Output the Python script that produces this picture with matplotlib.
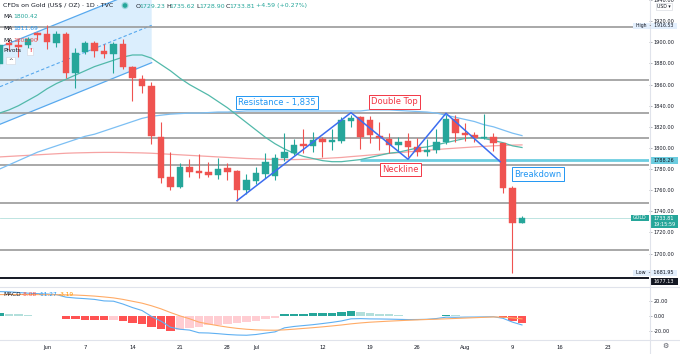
import matplotlib
matplotlib.use("Agg")
import matplotlib.pyplot as plt
from matplotlib.patches import Rectangle, Polygon, Circle
import numpy as np

plt.rcParams['font.family'] = ['DejaVu Sans']

# ---------------- data ----------------
first_index = -5          # trading-day index of first candle (0 = 1 Jun 2021)
opens = [1879.5, 1899.1, 1897.2, 1897.4, 1908.5, 1907.6, 1899.1, 1907.9, 1870.7, 1891.1,
         1899.1, 1891.8, 1888.6, 1898.1, 1876.9, 1865.3, 1858.9, 1810.6, 1772.8, 1763.3,
         1782.3, 1778.2, 1777.5, 1774.4, 1780.7, 1778.2, 1760.2, 1768.7, 1775.3, 1773.0,
         1790.2, 1795.5, 1803.5, 1801.8, 1808.2, 1805.9, 1806.9, 1825.8, 1829.0, 1826.0,
         1811.6, 1808.5, 1802.8, 1806.6, 1801.2, 1796.5, 1798.0, 1805.9, 1827.1, 1813.9,
         1812.3, 1809.1, 1810.6, 1804.4, 1761.8, 1729.23]
highs = [1899.0, 1903.0, 1903.0, 1905.0, 1910.0, 1916.53, 1911.0, 1909.5, 1894.9, 1901.2,
         1901.5, 1898.1, 1900.0, 1902.8, 1877.5, 1869.0, 1862.7, 1824.8, 1796.5, 1785.5,
         1789.5, 1794.3, 1787.0, 1790.2, 1785.8, 1779.5, 1775.3, 1782.3, 1794.9, 1794.0,
         1813.9, 1808.5, 1817.7, 1815.4, 1810.0, 1817.7, 1829.0, 1831.2, 1830.5, 1830.0,
         1824.8, 1813.9, 1810.7, 1813.9, 1809.1, 1808.2, 1817.7, 1831.2, 1831.2, 1823.3,
         1815.4, 1831.8, 1814.4, 1805.0, 1764.0, 1735.62]
lows = [1877.0, 1893.0, 1886.0, 1892.0, 1902.0, 1893.4, 1895.3, 1865.9, 1856.5, 1889.0,
        1886.4, 1885.0, 1870.7, 1874.4, 1844.4, 1851.7, 1803.5, 1766.5, 1760.2, 1762.0,
        1772.2, 1772.0, 1772.8, 1771.0, 1769.7, 1750.1, 1756.1, 1766.0, 1772.0, 1770.0,
        1788.0, 1793.0, 1795.0, 1796.5, 1791.2, 1798.0, 1805.0, 1820.0, 1798.7, 1805.0,
        1798.0, 1795.5, 1796.5, 1791.7, 1792.0, 1792.4, 1795.0, 1804.0, 1805.9, 1806.6,
        1805.9, 1808.2, 1797.4, 1757.6, 1681.95, 1728.90]
closes = [1897.4, 1897.2, 1895.5, 1902.8, 1906.9, 1900.0, 1907.9, 1870.7, 1889.6, 1899.1,
          1892.0, 1888.6, 1898.1, 1876.9, 1865.9, 1858.6, 1811.3, 1771.8, 1763.3, 1782.3,
          1777.5, 1776.6, 1774.4, 1779.8, 1777.5, 1760.2, 1769.7, 1776.0, 1787.0, 1790.2,
          1795.9, 1802.8, 1801.8, 1807.5, 1805.4, 1807.5, 1826.5, 1828.1, 1810.1, 1812.3,
          1809.1, 1802.8, 1805.9, 1801.2, 1796.5, 1798.0, 1805.9, 1827.1, 1813.9, 1812.3,
          1809.1, 1810.6, 1804.4, 1761.8, 1729.22, 1733.81]

ma20 = [1833, 1836, 1840, 1845, 1850, 1856, 1861, 1865, 1869, 1873,
        1877, 1880, 1883, 1886, 1888, 1888, 1885, 1879, 1873, 1866,
        1860, 1855, 1850, 1844, 1838, 1831, 1824, 1817, 1810, 1804,
        1799, 1795, 1792, 1790, 1788, 1787, 1787, 1788, 1789, 1791,
        1793, 1795, 1796, 1798, 1800, 1801, 1803, 1805, 1807, 1809,
        1810, 1809, 1807, 1805, 1802, 1800.42]
ma50 = [1780, 1784, 1788, 1792, 1796, 1799, 1802, 1805, 1808, 1811,
        1813, 1816, 1819, 1822, 1825, 1828, 1830, 1831, 1832, 1832.5,
        1833, 1833, 1833.5, 1834, 1834, 1834.5, 1835, 1835, 1835, 1835,
        1835, 1835, 1835, 1835, 1835, 1835, 1835, 1835, 1835, 1836,
        1836, 1836, 1835.5, 1835, 1834.5, 1834, 1833, 1831, 1829, 1827,
        1825, 1822, 1820, 1817, 1814, 1811.69]
ma100 = [1791.5, 1792, 1792.5, 1793, 1793.5, 1794, 1794.5, 1795, 1795.3, 1795.5,
         1795.7, 1795.8, 1795.8, 1795.7, 1795.5, 1795.3, 1795, 1794.5, 1794, 1793.5,
         1793, 1792.5, 1792, 1791.5, 1791, 1790.5, 1790, 1789.7, 1789.4, 1789.2,
         1789, 1789, 1789.2, 1789.5, 1790, 1790.5, 1791, 1791.8, 1792.5, 1793.3,
         1794, 1794.8, 1795.5, 1796.3, 1797, 1797.8, 1798.5, 1799.2, 1799.8, 1800.4,
         1801, 1801.5, 1802, 1802.4, 1802.7, 1802.90]

macd_line = [33.2, 32.9, 32.0, 31.1, 30.5, 30.0, 29.2, 25.8, 24.6, 23.8,
             22.8, 20.8, 20.4, 16.6, 11.9, 8.0, 0.1, -6.2, -14.3, -17.0,
             -18.1, -21.7, -22.0, -22.9, -24.0, -24.7, -25.0, -24.0, -22.2, -20.5,
             -15.1, -13.3, -12.1, -10.9, -9.4, -7.8, -5.9, -3.1, -2.8, -3.2,
             -3.3, -3.5, -3.8, -4.1, -4.0, -3.7, -2.7, -0.9, -1.1, -0.8,
             -0.7, -0.5, -0.3, -2.4, -7.5, -11.27]
macd_signal = [29.2, 29.3, 29.3, 29.3, 29.2, 29.1, 29.0, 28.9, 28.6, 28.0,
               27.2, 26.1, 24.8, 22.8, 20.3, 17.8, 14.3, 10.2, 5.3, 0.8,
               -3.0, -7.5, -10.0, -12.2, -14.2, -15.8, -17.0, -17.8, -18.2, -18.3,
               -17.8, -16.9, -15.9, -14.9, -13.8, -12.6, -11.3, -9.8, -8.6, -7.6,
               -6.9, -6.2, -5.6, -5.0, -4.5, -4.0, -3.6, -3.1, -2.6, -2.1,
               -1.6, -1.1, -0.6, -0.9, -1.9, -3.19]
macd_hist = [4.0, 3.6, 2.7, 1.8, 1.3, 0.9, 0.2, -3.1, -4.0, -4.2,
             -4.4, -5.3, -4.4, -6.2, -8.4, -9.8, -14.2, -16.4, -19.6, -17.8,
             -15.1, -14.2, -12.0, -10.7, -9.8, -8.9, -8.0, -6.2, -4.0, -2.2,
             2.7, 3.6, 3.8, 4.0, 4.4, 4.8, 5.4, 6.7, 5.8, 4.4,
             3.6, 2.7, 1.8, 0.9, 0.5, 0.3, 0.9, 2.2, 1.5, 1.3,
             0.9, 0.6, 0.3, -1.5, -5.6, -8.08]

tick_index = [0, 4, 9, 14, 19, 22, 29, 34, 39, 44, 49, 54, 59]
tick_text = ['Jun', '7', '14', '21', '28', 'Jul', '12', '19', '26', 'Aug', '9', '16', '23']
price_ticks = [1700, 1720, 1740, 1760, 1780, 1800, 1820, 1840, 1860, 1880, 1900, 1920, 1940]
macd_ticks = [20, 0, -20]

pivot_levels = [1914.8, 1864.3, 1833.4, 1809.4, 1784.2, 1748.2, 1703.4]
breakdown_level = 1788.26
low_marker = 1677.13
high_value, low_value = 1916.53, 1681.95
last_price = 1733.81

zigzag_x = [20, 32, 38, 42, 47.7]
zigzag_p = [1750.1, 1833.4, 1789.3, 1832.8, 1787.0]

channel_x = [-4.95, 11.02]
channel_upper = [1895.6, 1953.7]
channel_mid = [1858.0, 1916.1]
channel_lower = [1822.4, 1880.7]

# ---------------- figure ----------------
W, H = 680, 354
fig = plt.figure(figsize=(W / 100, H / 100), dpi=100)
fig.patch.set_facecolor('white')

def rect(x0, y0, x1, y1):
    return [x0 / W, 1 - y1 / H, (x1 - x0) / W, (y1 - y0) / H]

ax = fig.add_axes(rect(0, 0, 649, 286))
ax2 = fig.add_axes(rect(0, 287, 649, 339))

XL = (-4.947, 63.37)
ax.set_xlim(*XL)
ax.set_ylim(1669.33, 1940.04)
ax2.set_xlim(*XL)
ax2.set_ylim(-30.0, 39.33)

UP, DN = '#26a69a', '#ef5350'
idx = np.arange(first_index, first_index + len(opens))

# channel
ax.add_patch(Polygon([(channel_x[0], channel_upper[0]), (channel_x[1], channel_upper[1]),
                      (channel_x[1], channel_lower[1]), (channel_x[0], channel_lower[0])],
                     closed=True, fc='#2196f3', alpha=0.16, ec='none', zorder=1))
ax.plot(channel_x, channel_upper, color='#58a9ee', lw=0.9, zorder=2)
ax.plot(channel_x, channel_lower, color='#58a9ee', lw=0.9, zorder=2)
ax.plot(channel_x, channel_mid, color='#58a9ee', lw=0.8, ls=(0, (3, 2)), zorder=2)

# pivot lines
for lv in pivot_levels:
    ax.axhline(lv, color='#9a9a9a', lw=1.2, zorder=2)
ax.axhline(low_marker, color='#131722', lw=1.4, zorder=2)
ax.axhline(last_price, color='#26a69a', lw=0.6, alpha=0.35, zorder=2)
ax.hlines(breakdown_level, 32.95, XL[1], color='#6ccde0', lw=2.0, zorder=3)

# moving averages
ax.plot(idx, ma100, color='#f6a3a3', lw=0.9, zorder=3)
ax.plot(idx, ma50, color='#7cbff3', lw=0.9, zorder=3)
ax.plot(idx, ma20, color='#52b9aa', lw=0.9, zorder=3)

# candles
for x, o, h, l, c in zip(idx, opens, highs, lows, closes):
    col = UP if c >= o else DN
    ax.vlines(x, l, h, color=col, lw=0.8, zorder=4)
    ax.add_patch(Rectangle((x - 0.34, min(o, c)), 0.68, max(abs(c - o), 0.9),
                           fc=col, ec=col, lw=0.3, zorder=5))

# zigzag
ax.plot(zigzag_x, zigzag_p, color='#3c6df0', lw=1.1, zorder=6)

# annotation boxes
def box(x, y, s, col):
    ax.text(x, y, s, color=col, fontsize=6, ha='center', va='center', zorder=8,
            bbox=dict(boxstyle='square,pad=0.25', fc='white', ec=col, lw=0.7))
box(24.2, 1843.0, 'Resistance - 1,835', '#2196f3')
box(36.6, 1843.5, 'Double Top', '#f23645')
box(37.2, 1779.4, 'Neckline', '#f23645')
box(51.7, 1775.3, 'Breakdown', '#2196f3')

# axes styling main
for s in ax.spines.values():
    s.set_visible(False)
ax.set_xticks([])
ax.yaxis.tick_right()
ax.set_yticks(price_ticks)
ax.set_yticklabels(['%.2f' % v for v in price_ticks])
ax.tick_params(axis='y', labelsize=3.6, length=2, width=0.5, pad=1.5,
               colors='#9598a1', labelcolor='#131722')

# MACD
hcols = []
prev = None
for h in macd_hist:
    if h >= 0:
        hcols.append('#26a69a' if (prev is None or h > prev) else '#b2dfdb')
    else:
        hcols.append('#ff5252' if (prev is None or h < prev) else '#ffcdd2')
    prev = h
ax2.bar(idx, macd_hist, width=0.85, color=hcols, zorder=2)
ax2.plot(idx, macd_line, color='#5fb0f2', lw=0.8, zorder=3)
ax2.plot(idx, macd_signal, color='#ffab66', lw=0.8, zorder=3)
for s in ax2.spines.values():
    s.set_visible(False)
ax2.yaxis.tick_right()
ax2.set_yticks(macd_ticks)
ax2.set_yticklabels(['%.2f' % v for v in macd_ticks])
ax2.tick_params(axis='y', labelsize=3.6, length=2, width=0.5, pad=1.5,
                colors='#9598a1', labelcolor='#131722')
ax2.set_xticks(tick_index)
ax2.set_xticklabels(tick_text)
ax2.tick_params(axis='x', labelsize=3.8, length=0, pad=4.2, labelcolor='#131722')

# ---------------- overlay (pixel coordinates) ----------------
ov = fig.add_axes([0, 0, 1, 1], zorder=10)
ov.set_xlim(0, W)
ov.set_ylim(H, 0)
ov.axis('off')
ov.patch.set_alpha(0)

def py(p):
    return H - ax.transData.transform((0, p))[1]

# separators
ov.plot([0, W], [286.5, 286.5], color='#e0e3eb', lw=0.8)
ov.plot([0, W], [339.5, 339.5], color='#e0e3eb', lw=0.8)
ov.plot([649.5, 649.5], [0, H], color='#e0e3eb', lw=0.8)

# header
ov.text(3, 6, 'CFDs on Gold (US$ / OZ) · 1D · TVC', fontsize=4.5, color='#131722', va='center')
ov.add_patch(Circle((125, 5.5), 3.0, color='#26a69a', alpha=0.25))
ov.add_patch(Circle((125, 5.5), 1.6, color='#26a69a'))
x0 = 136
for lab, val in [('O', '1729.23'), ('H', '1735.62'), ('L', '1728.90'), ('C', '1733.81')]:
    ov.text(x0, 6, lab, fontsize=4.5, color='#131722', va='center')
    ov.text(x0 + 3.6, 6, val, fontsize=4.5, color='#26a69a', va='center')
    x0 += 30
ov.text(x0, 6, '+4.59 (+0.27%)', fontsize=4.5, color='#26a69a', va='center')

for yy, val, col in [(16, '1800.42', '#26a69a'), (29, '1811.69', '#2196f3'), (40, '1802.90', '#ef5350')]:
    ov.text(3, yy, 'MA', fontsize=4.3, color='#131722', va='center')
    ov.text(13, yy, val, fontsize=4.3, color=col, va='center')
ov.text(3, 51, 'Pivots', fontsize=4.3, color='#131722', va='center')
ov.add_patch(Rectangle((27, 47.5), 6, 7, fc='white', ec='#d1d4dc', lw=0.4))
ov.text(30, 51, '!', fontsize=4, color='#f23645', ha='center', va='center', weight='bold')
ov.add_patch(Rectangle((6, 57), 9, 7, fc='white', ec='#d1d4dc', lw=0.4))
ov.text(10.5, 60.5, '^', fontsize=4, color='#131722', ha='center', va='center')

# right scale labels
ov.add_patch(Rectangle((656, 2.7), 16, 7.3, fc='white', ec='#d1d4dc', lw=0.4))
ov.text(664, 6.5, 'USD ▾', fontsize=3.3, color='#131722', ha='center', va='center')

yh = py(high_value) + 1.0
ov.add_patch(Rectangle((633, yh - 2.8), 44, 5.8, fc='#e3effd', ec='none'))
ov.text(636, yh, 'High  -  %.2f' % high_value, fontsize=3.3, color='#131722', va='center')
yl = py(low_value)
ov.add_patch(Rectangle((633, yl - 3.0), 44, 6.0, fc='#e3effd', ec='none'))
ov.text(636, yl, 'Low  -  %.2f' % low_value, fontsize=3.5, color='#131722', va='center')

yb = py(breakdown_level)
ov.add_patch(Rectangle((649.5, yb - 3.3), 28, 6.6, fc='#6ccde0', ec='none'))
ov.text(654, yb, '%.2f' % breakdown_level, fontsize=3.6, color='#131722', va='center')

ym = 281.7
ov.add_patch(Rectangle((649.5, ym - 3.3), 28, 6.6, fc='#131722', ec='none'))
ov.text(654, ym, '%.2f' % low_marker, fontsize=3.6, color='white', va='center')

yc = py(last_price)
ov.add_patch(Rectangle((631, yc - 2.8), 18, 5.8, fc='#26a69a', ec='none'))
ov.text(640, yc, 'GOLD', fontsize=3.4, color='white', ha='center', va='center')
ov.add_patch(Rectangle((649.5, yc - 2.8), 28, 12.5, fc='#26a69a', ec='none'))
ov.text(654, yc + 0.2, '%.2f' % last_price, fontsize=3.6, color='white', va='center')
ov.text(654, yc + 6.3, '19:15:59', fontsize=3.6, color='white', va='center')

# macd legend
ov.text(3, 295, 'MACD', fontsize=4.2, color='#131722', va='center')
ov.text(22, 295, '-8.08', fontsize=4.2, color='#ef5350', va='center')
ov.text(39, 295, '-11.27', fontsize=4.2, color='#2196f3', va='center')
ov.text(59, 295, '-3.19', fontsize=4.2, color='#ff9800', va='center')

ov.text(665, 346, '⚙', fontsize=5, color='#50535e', ha='center', va='center')

fig.savefig('out.png', dpi=100, facecolor='white')
